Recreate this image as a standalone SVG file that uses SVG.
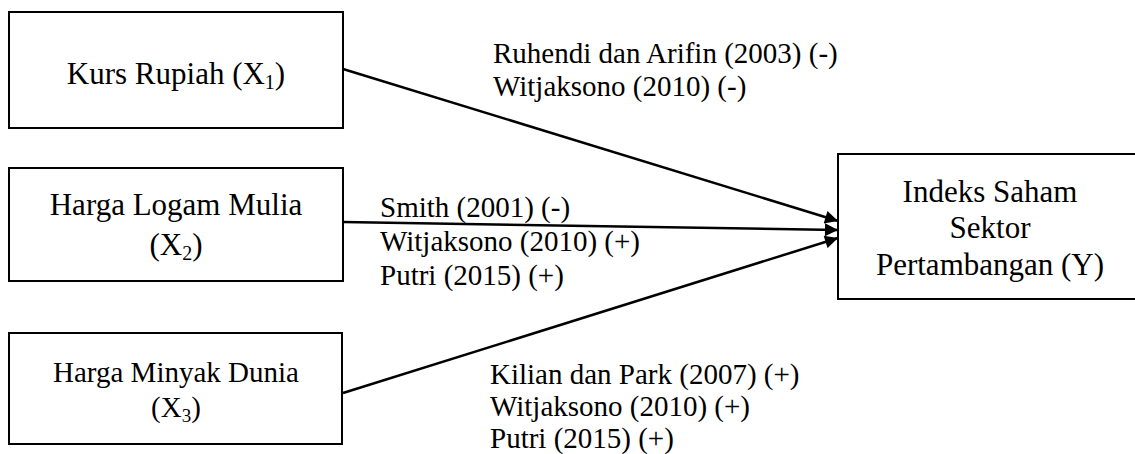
<svg xmlns="http://www.w3.org/2000/svg" width="1135" height="454" viewBox="0 0 1135 454">
<style>
.box{fill:#fff;stroke:#000;stroke-width:2}
.t{font-family:"Liberation Serif","Times New Roman",serif;fill:#000}
.lbl{font-size:29px}
.conn{stroke:#000;stroke-width:2.5;fill:none}
</style>
<defs>
<marker id="ah" viewBox="0 0 10 10" refX="10" refY="5" markerWidth="16" markerHeight="13" markerUnits="userSpaceOnUse" orient="auto">
<path d="M0,0 L10,5 L0,10 Z" fill="#000"/>
</marker>
</defs>
<rect width="1135" height="454" fill="#fff"/>
<g id="connectors">
<line class="conn" x1="343" y1="69" x2="838" y2="221" marker-end="url(#ah)"/>
<line class="conn" x1="343" y1="222" x2="838" y2="230" marker-end="url(#ah)"/>
<line class="conn" x1="343" y1="393" x2="838" y2="238" marker-end="url(#ah)"/>
</g>
<g id="node-x1">
<rect class="box" x="9" y="12" width="334" height="116"/>
<text class="t" x="176" y="84" font-size="31" text-anchor="middle">Kurs Rupiah (X<tspan font-size="20" dy="5">1</tspan><tspan dy="-5">)</tspan></text>
</g>
<g id="node-x2">
<rect class="box" x="9" y="168" width="334" height="113"/>
<text class="t" x="176" y="215" font-size="31" text-anchor="middle">Harga Logam Mulia</text>
<text class="t" x="176" y="255" font-size="31" text-anchor="middle">(X<tspan font-size="20" dy="5">2</tspan><tspan dy="-5">)</tspan></text>
</g>
<g id="node-x3">
<rect class="box" x="9" y="333" width="333" height="111"/>
<text class="t" x="176" y="382" font-size="29" text-anchor="middle">Harga Minyak Dunia</text>
<text class="t" x="176" y="417" font-size="29" text-anchor="middle">(X<tspan font-size="19" dy="5">3</tspan><tspan dy="-5">)</tspan></text>
</g>
<g id="node-y">
<rect class="box" x="838" y="154" width="299" height="145"/>
<text class="t" x="990" y="202" font-size="31" text-anchor="middle">Indeks Saham</text>
<text class="t" x="990" y="238" font-size="31" text-anchor="middle">Sektor</text>
<text class="t" x="990" y="275" font-size="31" text-anchor="middle">Pertambangan (Y)</text>
</g>
<g id="labels">
<text class="t lbl" x="493" y="63">Ruhendi dan Arifin (2003) (-)</text>
<text class="t lbl" x="493" y="96">Witjaksono (2010) (-)</text>
<text class="t lbl" x="380" y="217">Smith (2001) (-)</text>
<text class="t lbl" x="380" y="251">Witjaksono (2010) (+)</text>
<text class="t lbl" x="380" y="285">Putri (2015) (+)</text>
<text class="t lbl" x="490" y="384">Kilian dan Park (2007) (+)</text>
<text class="t lbl" x="490" y="416">Witjaksono (2010) (+)</text>
<text class="t lbl" x="490" y="448">Putri (2015) (+)</text>
</g>
</svg>
